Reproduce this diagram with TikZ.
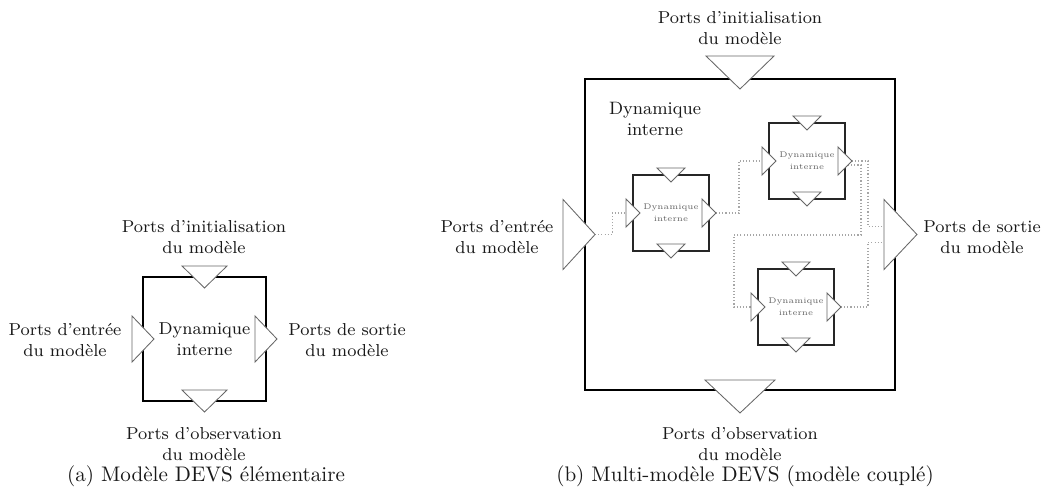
\documentclass[tikz,border=0pt]{standalone}
\usepackage{tikz}

\begin{document}
\begin{tikzpicture}[x=0.474pt,y=0.474pt]
\tikzstyle{every node}+=[inner sep=0pt]
\tikzset{
  bloc/.style={draw=black,line width=1pt,fill=white,outer sep=0pt},
  sbloc/.style={draw=black!85,line width=0.8pt,fill=white,outer sep=0pt,
    minimum width=36pt,minimum height=36pt,align=center,text=black!60,
    font=\fontsize{3.9}{5.6}\selectfont},
  port/.style={draw=black!60,fill=white,line width=0.4pt},
  lien/.style={draw=black!35,densely dotted,line width=0.5pt},
  lbl/.style={align=center,text=black!90,font=\fontsize{8.2}{10}\selectfont},
  legende/.style={text=black!90,font=\fontsize{10}{12}\selectfont}
}
\useasboundingbox (0,0) rectangle (1047,-494);

% (a) modele elementaire
\node[bloc,minimum width=58.3pt,minimum height=58.8pt,lbl] (E) at (204.5,-339) {Dynamique\\interne};
\foreach \a in {north,south}
  \filldraw[port,shift={(E.\a)}] (-22.5,11) -- (22.5,11) -- (0,-11) -- cycle;
\foreach \a in {west,east}
  \filldraw[port,shift={(E.\a)}] (-11,23) -- (11,0) -- (-11,-23) -- cycle;
\node[lbl] (Einit) at (204,-237.5) {Ports d’initialisation\\du modèle};
\node[lbl] (Eentree) at (65,-340) {Ports d’entrée\\du modèle};
\node[lbl] (Esortie) at (347,-340) {Ports de sortie\\du modèle};
\node[lbl] (Eobs) at (204,-444) {Ports d’observation\\du modèle};
\node[legende] (capa) at (206,-476) {(a) Modèle DEVS élémentaire};

% (b) multi-modele
\node[bloc,minimum width=146.9pt,minimum height=147.4pt] (M) at (740,-234.5) {};
\node[lbl,font=\fontsize{8.5}{10.4}\selectfont] (Mdyn) at (655,-119) {Dynamique\\interne};
\node[sbloc] (A) at (671,-213) {Dynamique\\interne};
\node[sbloc] (B) at (807,-161) {Dynamique\\interne};
\node[sbloc] (C) at (796,-307) {Dynamique\\interne};

\path[shift={(M.west)}] (10,0) coordinate (Min);
\path[shift={(M.east)}] (-11,8) coordinate (Mout1) (-11,-8) coordinate (Mout2);
\foreach \b in {A,B,C} {
  \path[shift={(\b.west)}] (-7,0) coordinate (\b-in);
  \path[shift={(\b.east)}] (7,0) coordinate (\b-out);
}
\path[shift={(B.east)}] (3,-4) coordinate (B-out2);

% couplages
\draw[lien] (Min) -- ++(17,0) |- (A-in);
\draw[lien] (A-out) -- ++(23,0) |- (B-in);
\draw[lien] (B-out) -- ++(16,0) |- (Mout1);
\draw[lien] (B-out2) -- ++(13,0) -- ++(0,-70) -- ++(-127,0) |- (C-in);
\draw[lien] (C-out) -- ++(27,0) |- (Mout2);

% ports
\filldraw[port,shift={(M.north)}] (-34,23) -- (34,23) -- (0,-10) -- cycle;
\filldraw[port,shift={(M.south)}] (-35,10) -- (35,10) -- (0,-23) -- cycle;
\filldraw[port,shift={(M.west)}] (-22,35) -- (10,0) -- (-22,-35) -- cycle;
\filldraw[port,shift={(M.east)}] (-11,35) -- (22,0) -- (-11,-35) -- cycle;
\foreach \b in {A,B,C} {
  \foreach \a in {north,south}
    \filldraw[port,shift={(\b.\a)}] (-14,7) -- (14,7) -- (0,-7) -- cycle;
  \foreach \a in {west,east}
    \filldraw[port,shift={(\b.\a)}] (-7,14) -- (7,0) -- (-7,-14) -- cycle;
}

\node[lbl] (Minit) at (740,-28) {Ports d’initialisation\\du modèle};
\node[lbl] (Mentree) at (497,-237) {Ports d’entrée\\du modèle};
\node[lbl] (Msortie) at (982,-237) {Ports de sortie\\du modèle};
\node[lbl] (Mobs) at (740,-444) {Ports d’observation\\du modèle};
\node[legende] (capb) at (745,-476) {(b) Multi-modèle DEVS (modèle couplé)};
\end{tikzpicture}
\end{document}
